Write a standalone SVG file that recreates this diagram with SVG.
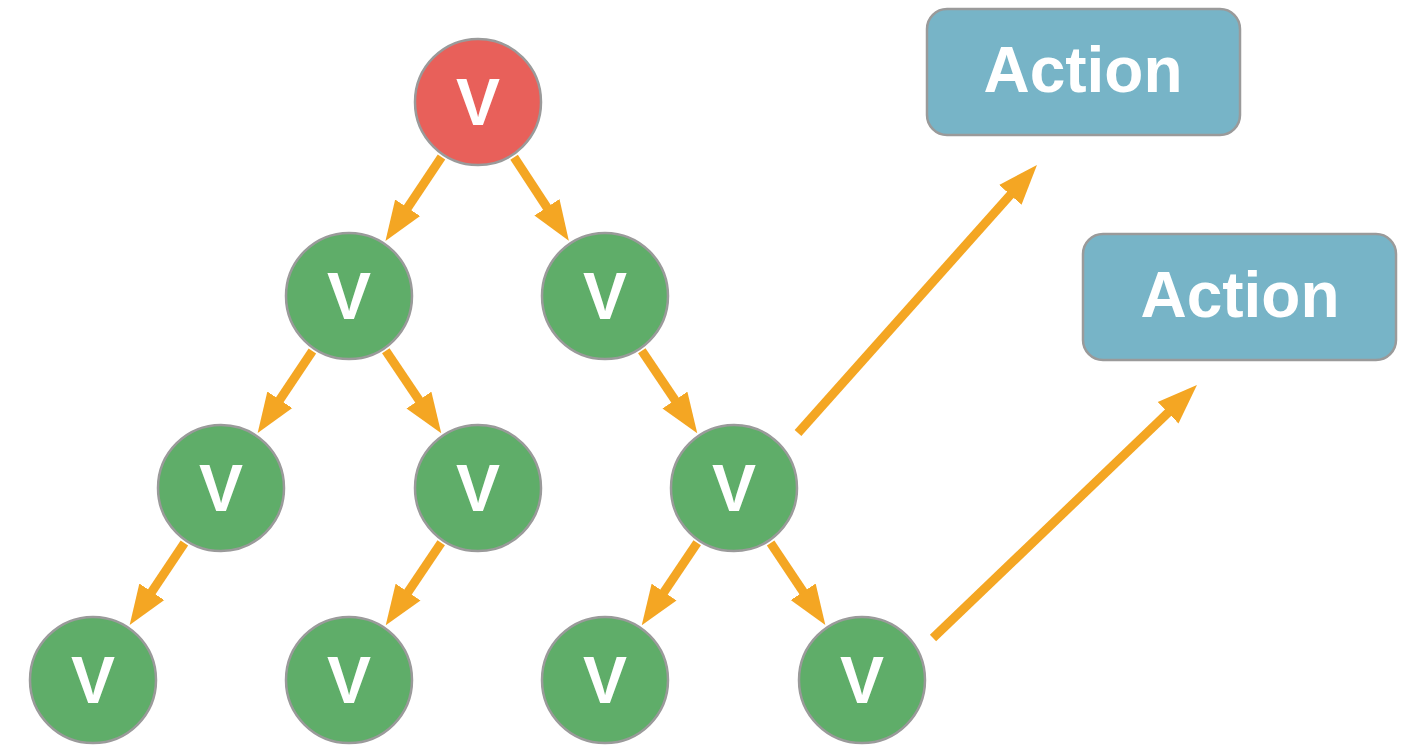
<svg xmlns="http://www.w3.org/2000/svg" width="1415" height="746" viewBox="0 0 1415 746">
  <style>
    .node { stroke: #9a9a9a; stroke-width: 2.5; }
    .root { fill: #E8605A; }
    .leaf { fill: #5FAD69; }
    .act { fill: #77B4C7; stroke: #9a9a9a; stroke-width: 2.5; }
    .lbl { font-family: "Liberation Sans", Arial, sans-serif; font-weight: bold; fill: #ffffff; text-anchor: middle; }
    .v { font-size: 66px; }
    .a { font-size: 64px; }
    .edge { stroke: #F4A623; stroke-width: 9; fill: none; marker-end: url(#head); }
  </style>
  <defs>
    <!-- solid triangular arrowhead; the shaft ends 10px inside its base -->
    <marker id="head" markerUnits="userSpaceOnUse" markerWidth="40" markerHeight="32" viewBox="0 0 40 32" refX="10" refY="16" orient="auto">
      <path d="M0,1 L40,16 L0,31 z" fill="#F4A623"/>
    </marker>
  </defs>

  <rect width="1415" height="746" fill="#ffffff"/>

  <g id="connectors">
    <line class="edge" x1="441.5" y1="157" x2="402.1" y2="216.1"/>
    <line class="edge" x1="514.1" y1="157.2" x2="552.4" y2="215.7"/>
    <line class="edge" x1="312.4" y1="350.9" x2="274.3" y2="408.1"/>
    <line class="edge" x1="385.8" y1="350.8" x2="424.5" y2="408.3"/>
    <line class="edge" x1="641.8" y1="350.8" x2="680.5" y2="408.3"/>
    <line class="edge" x1="184.4" y1="542.9" x2="146.3" y2="600.1"/>
    <line class="edge" x1="441.2" y1="542.8" x2="402.5" y2="600.3"/>
    <line class="edge" x1="697.2" y1="542.8" x2="658.5" y2="600.3"/>
    <line class="edge" x1="770.6" y1="542.9" x2="808.7" y2="600.1"/>
    <line class="edge" x1="798" y1="433" x2="1017" y2="187.4"/>
    <line class="edge" x1="933" y1="638" x2="1175.3" y2="405.8"/>
  </g>

  <g id="n-root"><circle class="node root" cx="478" cy="102" r="63"/><text class="lbl v" x="478" y="125">V</text></g>
  <g id="n-l2a"><circle class="node leaf" cx="349" cy="296" r="63"/><text class="lbl v" x="349" y="319">V</text></g>
  <g id="n-l2b"><circle class="node leaf" cx="605" cy="296" r="63"/><text class="lbl v" x="605" y="319">V</text></g>
  <g id="n-l3a"><circle class="node leaf" cx="221" cy="488" r="63"/><text class="lbl v" x="221" y="511">V</text></g>
  <g id="n-l3b"><circle class="node leaf" cx="478" cy="488" r="63"/><text class="lbl v" x="478" y="511">V</text></g>
  <g id="n-l3c"><circle class="node leaf" cx="734" cy="488" r="63"/><text class="lbl v" x="734" y="511">V</text></g>
  <g id="n-l4a"><circle class="node leaf" cx="93" cy="680" r="63"/><text class="lbl v" x="93" y="703">V</text></g>
  <g id="n-l4b"><circle class="node leaf" cx="349" cy="680" r="63"/><text class="lbl v" x="349" y="703">V</text></g>
  <g id="n-l4c"><circle class="node leaf" cx="605" cy="680" r="63"/><text class="lbl v" x="605" y="703">V</text></g>
  <g id="n-l4d"><circle class="node leaf" cx="862" cy="680" r="63"/><text class="lbl v" x="862" y="703">V</text></g>

  <g id="action-1"><rect class="act" x="927" y="9" width="313" height="126" rx="20"/><text class="lbl a" x="1083" y="92">Action</text></g>
  <g id="action-2"><rect class="act" x="1083" y="234" width="313" height="126" rx="20"/><text class="lbl a" x="1240" y="317">Action</text></g>
</svg>
